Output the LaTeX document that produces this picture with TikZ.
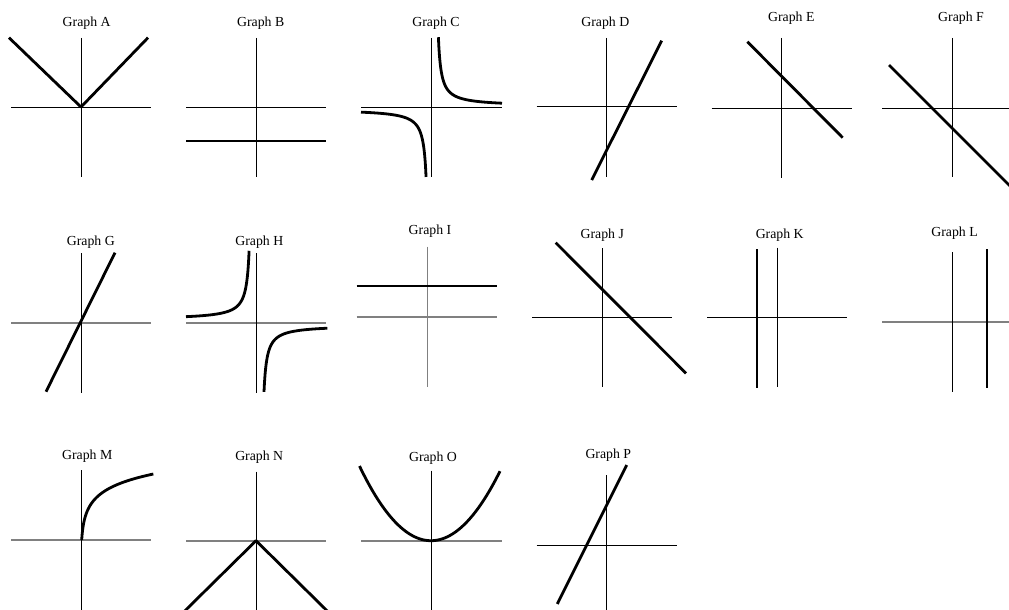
\documentclass[tikz,border=0pt]{standalone}
\usepackage{fontspec}
\setmainfont{Liberation Serif}
\tikzset{
  axis/.style={line width=1pt, black},
  faxis/.style={line width=1.6pt, black!50},
  curve/.style={line width=2.8pt, black, line join=round},
  title/.style={anchor=base, font=\fontsize{13.8}{16}\selectfont, inner sep=0pt}
}
\begin{document}
\begin{tikzpicture}[x=1pt,y=-1pt]
\useasboundingbox (0,0) rectangle (1009,610);
\clip (0,0) rectangle (1009,610);

% ---------- Row 1 ----------
% Graph A
\node[title] (tA) at (86.7,26.4) {Graph A};
\draw[axis] (11,107) -- (151,107);
\draw[axis] (81,38) -- (81,177);
\draw[curve] (9,37.7) -- (81,107) -- (148,37.7);

% Graph B
\node[title] (tB) at (260.7,26.4) {Graph B};
\draw[axis] (186,107) -- (326,107);
\draw[axis] (256,38) -- (256,177);
\draw[curve] (186,141) -- (326,141);

% Graph C
\node[title] (tC) at (436,26.4) {Graph C};
\draw[axis] (361,107.7) -- (502,107.7);
\draw[axis] (431,38) -- (431,177);
\begin{scope}[shift={(431,107.7)}, yscale=-1]
  \draw[curve] plot[domain=7.4:71, samples=150, smooth] (\x,{200/(\x-4.5)+1.5});
  \draw[curve] plot[domain=-70:-4.95, samples=150, smooth] (\x,{200/(\x+2)-1.5});
\end{scope}

% Graph D
\node[title] (tD) at (605.3,26.4) {Graph D};
\draw[axis] (536.7,106) -- (676.7,106);
\draw[axis] (606,38) -- (606,177);
\draw[curve] (661.7,40.7) -- (591.7,180);

% Graph E
\node[title] (tE) at (791.3,22) {Graph E};
\draw[axis] (711.7,108) -- (851.7,108);
\draw[axis] (781,38) -- (781,178);
\draw[curve] (747.3,41.7) -- (842.7,137.7);

% Graph F
\node[title] (tF) at (961,22) {Graph F};
\draw[axis] (882.3,108) -- (1022.3,108);
\draw[axis] (952.7,38) -- (952.7,177);
\draw[curve] (889,65) -- (1015,191);

% ---------- Row 2 ----------
% Graph G
\node[title] (tG) at (90.8,245.5) {Graph G};
\draw[faxis] (11,322.7) -- (151,322.7);
\draw[axis] (81,253.3) -- (81,392.7);
\draw[curve] (115,252.7) -- (46,391.7);

% Graph H
\node[title] (tH) at (259.3,245.5) {Graph H};
\draw[faxis] (186,322.7) -- (326,322.7);
\draw[axis] (256,253) -- (256,392.7);
\begin{scope}[shift={(256,322.7)}, yscale=-1]
  \draw[curve] plot[domain=-70:-6.9, samples=150, smooth] (\x,{200/(-\x-4)+3});
  \draw[curve] plot[domain=8:71.3, samples=150, smooth] (\x,{-200/(\x-5)-2.5});
\end{scope}

% Graph I
\node[title] (tI) at (430,234.7) {Graph I};
\draw[faxis] (356.7,316.7) -- (496.7,316.7);
\draw[faxis] (427.3,246.7) -- (427.3,386.7);
\draw[curve] (356.7,286) -- (496.7,286);

% Graph J
\node[title] (tJ) at (602.3,238.8) {Graph J};
\draw[axis] (532.3,317.3) -- (672.3,317.3);
\draw[axis] (602.3,248.3) -- (602.3,386.7);
\draw[curve] (555.7,242.7) -- (686,373.3);

% Graph K
\node[title] (tK) at (779.7,238.5) {Graph K};
\draw[axis] (707.3,317.3) -- (847.3,317.3);
\draw[axis] (777,247.7) -- (777,387.3);
\draw[curve] (757,249.3) -- (757,388.3);

% Graph L
\node[title] (tL) at (954.5,236) {Graph L};
\draw[faxis] (882.3,322) -- (1022.3,322);
\draw[axis] (952.7,252.3) -- (952.7,391.7);
\draw[curve] (987,249) -- (987,388.3);

% ---------- Row 3 ----------
% Graph M
\node[title] (tM) at (87.2,459.5) {Graph M};
\draw[faxis] (11,540) -- (151,540);
\draw[axis] (81.7,470) -- (81.7,615);
\begin{scope}[shift={(81.7,540)}, yscale=-1]
  \draw[curve] plot[domain=0:4.286, samples=80, smooth, variable=\s]
    ({exp(\s)-1},{15.4*\s});
\end{scope}

% Graph N
\node[title] (tN) at (259.2,460.5) {Graph N};
\draw[faxis] (186,540.7) -- (326,540.7);
\draw[axis] (256,471.7) -- (256,615);
\draw[curve] (175.6,620) -- (256,540.7) -- (336.4,620);

% Graph O
\node[title] (tO) at (433,461.5) {Graph O};
\draw[faxis] (361,540.7) -- (501.7,540.7);
\draw[axis] (431,470.7) -- (431,615);
\begin{scope}[shift={(431,540.7)}, yscale=-1]
  \draw[curve] plot[domain=-71.5:69, samples=80, smooth] (\x,{0.0146*\x*\x});
\end{scope}

% Graph P
\node[title] (tP) at (608.3,458.8) {Graph P};
\draw[axis] (536.7,545) -- (676.7,545);
\draw[axis] (606.7,475) -- (606.7,615);
\draw[curve] (626.7,465) -- (557.3,604);
\end{tikzpicture}
\end{document}
